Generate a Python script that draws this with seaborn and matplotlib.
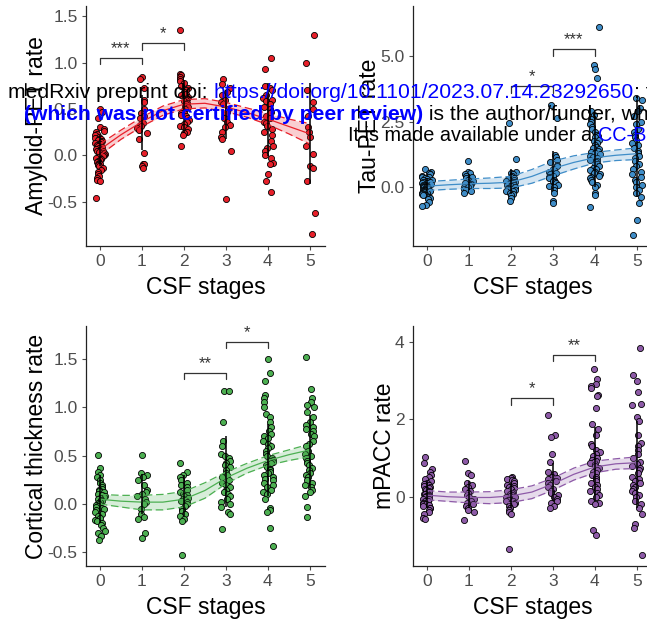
import numpy as np
import matplotlib
matplotlib.use("Agg")
import matplotlib.pyplot as plt
import seaborn as sns

# ---------------- data ----------------
STAGES = [0, 1, 2, 3, 4, 5]
STAGE_TICKS = ["0", "1", "2", "3", "4", "5"]
CURVE_X = [0, 0.5, 1, 1.5, 2, 2.5, 3, 3.5, 4, 4.5, 5]

# Amyloid-PET rate
A0 = [0.50, 0.47, 0.40, 0.30, 0.28, 0.26, 0.25, 0.23, 0.22, 0.20, 0.19, 0.18, 0.17, 0.16, 0.15, 0.14,
      0.13, 0.12, 0.11, 0.10, 0.10, 0.09, 0.08, 0.07, 0.06, 0.05, 0.05, 0.04, 0.03, 0.02, 0.01, 0.00,
      0.00, -0.01, -0.02, -0.03, -0.04, -0.05, -0.06, -0.07, -0.08, -0.09, -0.10, -0.11, -0.12, -0.14,
      -0.16, -0.18, -0.20, -0.22, -0.25, -0.27, -0.28, -0.46]
A1 = [0.84, 0.82, 0.73, 0.60, 0.57, 0.50, 0.45, 0.42, 0.40, 0.35, 0.33, 0.31, 0.29, 0.27, 0.24, 0.18,
      0.02, -0.09, -0.10, -0.12, -0.14]
A2 = [1.35, 0.88, 0.86, 0.84, 0.82, 0.80, 0.78, 0.75, 0.72, 0.70, 0.68, 0.66, 0.65, 0.63, 0.61, 0.60,
      0.58, 0.56, 0.55, 0.53, 0.52, 0.50, 0.48, 0.46, 0.45, 0.43, 0.42, 0.40, 0.38, 0.36, 0.34, 0.32,
      0.30, 0.28, 0.25, 0.24, 0.22, 0.10]
A3 = [0.82, 0.77, 0.73, 0.68, 0.65, 0.60, 0.57, 0.55, 0.50, 0.47, 0.45, 0.40, 0.36, 0.33, 0.30, 0.25,
      0.20, 0.17, 0.05, -0.47]
A4 = [1.05, 0.93, 0.75, 0.72, 0.70, 0.65, 0.62, 0.60, 0.58, 0.55, 0.52, 0.50, 0.47, 0.45, 0.42, 0.40,
      0.36, 0.35, 0.32, 0.28, 0.25, 0.22, 0.15, 0.10, 0.08, 0.05, 0.00, -0.03, -0.08, -0.10, -0.20,
      -0.28, -0.40]
A5 = [1.30, 1.00, 0.70, 0.57, 0.50, 0.42, 0.30, 0.25, 0.20, 0.10, 0.01, -0.12, -0.14, -0.28, -0.62, -0.85]
A_MID = [0.06, 0.22, 0.36, 0.48, 0.55, 0.56, 0.52, 0.46, 0.39, 0.31, 0.23]
A_LO = [0.00, 0.17, 0.31, 0.43, 0.50, 0.51, 0.47, 0.41, 0.33, 0.23, 0.12]
A_HI = [0.12, 0.27, 0.41, 0.53, 0.60, 0.61, 0.57, 0.51, 0.45, 0.39, 0.34]
A_ERR_LO = [-0.12, 0.06, 0.24, 0.17, -0.01, -0.31]
A_ERR_HI = [0.22, 0.65, 0.81, 0.70, 0.78, 0.78]

# Tau-PET rate
T0 = [0.70, 0.60, 0.55, 0.50, 0.45, 0.40, 0.38, 0.35, 0.32, 0.30, 0.28, 0.25, 0.22, 0.20, 0.18, 0.15,
      0.12, 0.10, 0.08, 0.06, 0.05, 0.03, 0.02, 0.00, 0.00, -0.02, -0.03, -0.05, -0.06, -0.08, -0.10,
      -0.12, -0.14, -0.15, -0.18, -0.20, -0.22, -0.25, -0.28, -0.30, -0.35, -0.40, -0.45, -0.55,
      -0.65, -0.70]
T1 = [0.99, 0.60, 0.55, 0.50, 0.45, 0.40, 0.35, 0.30, 0.25, 0.20, 0.15, 0.12, 0.10, 0.05, 0.02, 0.00,
      -0.05, -0.10, -0.15, -0.20]
T2 = [2.44, 1.08, 0.60, 0.55, 0.50, 0.45, 0.40, 0.35, 0.32, 0.30, 0.25, 0.22, 0.20, 0.18, 0.15, 0.12,
      0.10, 0.08, 0.05, 0.03, 0.00, -0.02, -0.05, -0.08, -0.10, -0.12, -0.15, -0.20, -0.25, -0.30,
      -0.40, -0.51]
T3 = [3.11, 2.62, 1.24, 1.15, 1.05, 0.95, 0.85, 0.80, 0.70, 0.65, 0.60, 0.55, 0.50, 0.45, 0.40, 0.35,
      0.30, 0.25, 0.20, 0.15, 0.10, 0.05, 0.00, -0.10, -0.20, -0.50, -0.60]
T4 = [6.07, 4.66, 4.50, 4.15, 2.90, 2.73, 2.60, 2.50, 2.40, 2.30, 2.20, 2.10, 2.00, 1.95, 1.90, 1.80,
      1.75, 1.70, 1.60, 1.55, 1.50, 1.45, 1.40, 1.35, 1.30, 1.25, 1.20, 1.15, 1.10, 1.05, 1.00, 0.95,
      0.90, 0.85, 0.80, 0.75, 0.70, 0.65, 0.60, 0.55, 0.50, 0.45, 0.40, 0.35, 0.30, 0.20, 0.10, 0.00,
      -0.20, -0.30, -0.76]
T5 = [3.39, 3.30, 3.00, 2.90, 2.70, 2.50, 2.40, 2.20, 2.10, 2.00, 1.90, 1.80, 1.70, 1.60, 1.50, 1.40,
      1.30, 1.20, 1.10, 1.00, 0.90, 0.80, 0.70, 0.60, 0.50, 0.40, 0.30, 0.20, 0.10, 0.00, -0.10, -0.20,
      -0.35, -0.60, -1.23, -1.81]
T_MID = [0.05, 0.10, 0.14, 0.16, 0.20, 0.42, 0.72, 0.95, 1.13, 1.22, 1.28]
T_LO = [-0.12, -0.07, -0.04, -0.04, -0.02, 0.16, 0.44, 0.70, 0.93, 1.02, 1.06]
T_HI = [0.22, 0.27, 0.32, 0.36, 0.42, 0.68, 1.00, 1.20, 1.33, 1.42, 1.50]
T_ERR_LO = [-0.30, -0.10, -0.25, -0.15, 0.00, -0.38]
T_ERR_HI = [0.35, 0.50, 0.70, 1.40, 2.70, 3.30]

# Cortical thickness rate
C0 = [0.51, 0.37, 0.33, 0.30, 0.28, 0.25, 0.22, 0.20, 0.18, 0.16, 0.15, 0.13, 0.12, 0.10, 0.09, 0.08,
      0.07, 0.06, 0.05, 0.04, 0.03, 0.02, 0.01, 0.00, -0.01, -0.02, -0.03, -0.04, -0.05, -0.06, -0.08,
      -0.10, -0.12, -0.14, -0.16, -0.18, -0.20, -0.22, -0.25, -0.28, -0.30, -0.33, -0.37]
C1 = [0.51, 0.32, 0.30, 0.28, 0.25, 0.20, 0.15, 0.12, 0.10, 0.08, 0.05, 0.02, 0.00, -0.05, -0.10,
      -0.13, -0.15, -0.30, -0.35]
C2 = [0.42, 0.33, 0.30, 0.28, 0.25, 0.22, 0.20, 0.18, 0.15, 0.12, 0.10, 0.09, 0.08, 0.06, 0.05, 0.04,
      0.03, 0.02, 0.00, -0.02, -0.05, -0.07, -0.10, -0.12, -0.15, -0.17, -0.53]
C3 = [1.17, 1.17, 0.85, 0.65, 0.60, 0.52, 0.50, 0.48, 0.45, 0.42, 0.40, 0.38, 0.35, 0.32, 0.30, 0.28,
      0.25, 0.22, 0.20, 0.18, 0.15, 0.12, 0.10, 0.08, 0.05, 0.02, 0.00, -0.03, -0.08, -0.10, -0.26]
C4 = [1.50, 1.35, 1.27, 1.13, 1.10, 1.05, 1.00, 0.93, 0.90, 0.85, 0.80, 0.75, 0.72, 0.70, 0.68, 0.65,
      0.62, 0.60, 0.58, 0.55, 0.52, 0.50, 0.48, 0.46, 0.45, 0.43, 0.42, 0.40, 0.38, 0.36, 0.35, 0.33,
      0.32, 0.30, 0.28, 0.26, 0.25, 0.22, 0.20, 0.18, 0.15, 0.12, 0.10, 0.05, -0.04, -0.06, -0.08,
      -0.25, -0.43]
C5 = [1.52, 1.19, 1.10, 1.05, 1.02, 1.00, 0.95, 0.90, 0.85, 0.82, 0.80, 0.78, 0.75, 0.72, 0.70, 0.65,
      0.62, 0.60, 0.55, 0.52, 0.50, 0.48, 0.45, 0.42, 0.40, 0.37, 0.35, 0.32, 0.30, 0.28, 0.25, 0.22,
      0.20, 0.18, 0.15, 0.12, 0.08, -0.03, -0.13]
C_MID = [0.05, 0.03, 0.02, 0.02, 0.05, 0.14, 0.27, 0.37, 0.45, 0.51, 0.56]
C_LO = [0.00, -0.03, -0.06, -0.06, -0.03, 0.06, 0.21, 0.32, 0.40, 0.45, 0.49]
C_HI = [0.10, 0.09, 0.09, 0.10, 0.13, 0.22, 0.33, 0.42, 0.50, 0.56, 0.62]
C_ERR_LO = [-0.20, -0.10, -0.12, -0.03, 0.08, 0.17]
C_ERR_HI = [0.30, 0.31, 0.30, 0.70, 0.83, 0.92]

# mPACC rate
M0 = [1.03, 0.88, 0.72, 0.65, 0.55, 0.50, 0.45, 0.40, 0.36, 0.33, 0.30, 0.28, 0.25, 0.22, 0.20, 0.18,
      0.15, 0.12, 0.10, 0.08, 0.06, 0.05, 0.03, 0.01, 0.00, -0.02, -0.05, -0.07, -0.10, -0.12, -0.15,
      -0.18, -0.20, -0.22, -0.25, -0.28, -0.30, -0.35, -0.40, -0.45, -0.55, -0.58]
M1 = [0.92, 0.60, 0.55, 0.35, 0.30, 0.25, 0.20, 0.15, 0.10, 0.05, 0.00, -0.05, -0.10, -0.15, -0.20,
      -0.25, -0.30, -0.35, -0.40, -0.60]
M2 = [0.50, 0.48, 0.45, 0.42, 0.40, 0.35, 0.30, 0.28, 0.25, 0.22, 0.20, 0.15, 0.12, 0.10, 0.08, 0.05,
      0.02, 0.00, -0.02, -0.05, -0.08, -0.10, -0.12, -0.15, -0.18, -0.20, -0.25, -0.30, -0.35, -0.40,
      -0.45, -1.35]
M3 = [2.12, 1.60, 1.55, 1.10, 0.90, 0.65, 0.58, 0.52, 0.48, 0.45, 0.40, 0.35, 0.30, 0.25, 0.20, 0.15,
      0.10, 0.05, 0.00, -0.05, -0.10, -0.15, -0.25, -0.30]
M4 = [3.30, 3.05, 2.90, 2.85, 2.80, 2.62, 2.60, 2.28, 1.88, 1.75, 1.60, 1.35, 1.30, 1.20, 1.15, 1.10,
      1.05, 1.00, 0.95, 0.92, 0.90, 0.88, 0.85, 0.80, 0.75, 0.70, 0.65, 0.60, 0.55, 0.50, 0.45, 0.40,
      0.35, 0.30, 0.25, 0.20, 0.15, 0.10, 0.05, 0.00, -0.10, -0.15, -0.20, -0.85, -1.00]
M5 = [3.85, 3.15, 3.00, 2.70, 2.40, 2.38, 2.05, 1.95, 1.60, 1.40, 1.30, 1.20, 1.10, 1.00, 0.90, 0.85,
      0.80, 0.75, 0.70, 0.60, 0.50, 0.45, 0.40, 0.35, 0.30, 0.25, 0.20, 0.15, 0.10, 0.05, 0.00, -0.10,
      -0.20, -0.30, -0.45, -0.70, -0.80, -1.50]
M_MID = [0.04, 0.00, -0.02, -0.02, 0.02, 0.12, 0.33, 0.58, 0.77, 0.85, 0.88]
M_LO = [-0.08, -0.12, -0.16, -0.18, -0.15, -0.05, 0.17, 0.43, 0.62, 0.71, 0.73]
M_HI = [0.16, 0.12, 0.12, 0.13, 0.18, 0.28, 0.48, 0.74, 0.92, 0.98, 1.03]
M_ERR_LO = [-0.30, -0.30, -0.30, -0.10, -0.10, -0.30]
M_ERR_HI = [0.40, 0.40, 0.35, 0.86, 1.81, 1.96]

Y_LABELS = ["Amyloid-PET rate", "Tau-PET rate", "Cortical thickness rate", "mPACC rate"]
COLORS = ["#E8202A", "#3F8DC8", "#4DB052", "#8E5BA8"]
SIG_LABELS = [["***", "*"], ["*", "***"], ["**", "*"], ["*", "**"]]

# ---------------- style ----------------
sns.set_theme(style="ticks")
plt.rcParams["font.family"] = ["Liberation Sans", "DejaVu Sans"]
plt.rcParams["axes.unicode_minus"] = False

W, H = 647, 627
fig = plt.figure(figsize=(W / 100, H / 100), dpi=100)

panels = [
    dict(groups=[A0, A1, A2, A3, A4, A5], mid=A_MID, lo=A_LO, hi=A_HI, elo=A_ERR_LO, ehi=A_ERR_HI,
         ylim=(-0.98, 1.61), yticks=[-0.5, 0.0, 0.5, 1.0, 1.5], fmt="{:.1f}",
         br=[(0, 1, 1.05, 0.07), (1, 2, 1.21, 0.08)], pos=(86, 6)),
    dict(groups=[T0, T1, T2, T3, T4, T5], mid=T_MID, lo=T_LO, hi=T_HI, elo=T_ERR_LO, ehi=T_ERR_HI,
         ylim=(-2.22, 6.88), yticks=[0.0, 2.5, 5.0], fmt="{:.1f}",
         br=[(2, 3, 3.83, 0.25), (3, 4, 5.25, 0.25)], pos=(413, 6)),
    dict(groups=[C0, C1, C2, C3, C4, C5], mid=C_MID, lo=C_LO, hi=C_HI, elo=C_ERR_LO, ehi=C_ERR_HI,
         ylim=(-0.64, 1.84), yticks=[-0.5, 0.0, 0.5, 1.0, 1.5], fmt="{:.1f}",
         br=[(2, 3, 1.35, 0.06), (3, 4, 1.67, 0.06)], pos=(86, 326)),
    dict(groups=[M0, M1, M2, M3, M4, M5], mid=M_MID, lo=M_LO, hi=M_HI, elo=M_ERR_LO, ehi=M_ERR_HI,
         ylim=(-1.79, 4.41), yticks=[0, 2, 4], fmt="{:.0f}",
         br=[(2, 3, 2.54, 0.16), (3, 4, 3.66, 0.16)], pos=(413, 326)),
]

AX_W, AX_H = 239, 240
np.random.seed(3)
for i, p in enumerate(panels):
    left, top = p["pos"]
    ax = fig.add_axes([left / W, 1 - (top + AX_H) / H, AX_W / W, AX_H / H])
    col = COLORS[i]
    xs, ys = [], []
    for s, g in zip(STAGES, p["groups"]):
        xs += [s] * len(g)
        ys += list(g)
    sns.stripplot(x=xs, y=ys, native_scale=True, jitter=0.12, color=col, size=4.4,
                  edgecolor="black", linewidth=0.6, ax=ax, zorder=2)
    ax.fill_between(CURVE_X, p["lo"], p["hi"], color=col, alpha=0.22, linewidth=0, zorder=3)
    sns.lineplot(x=CURVE_X, y=p["mid"], color=col, linewidth=0.9, ax=ax, zorder=4)
    sns.lineplot(x=CURVE_X, y=p["lo"], color=col, linewidth=0.9, linestyle=(0, (6, 3)), ax=ax, zorder=4)
    sns.lineplot(x=CURVE_X, y=p["hi"], color=col, linewidth=0.9, linestyle=(0, (6, 3)), ax=ax, zorder=4)
    ax.vlines(STAGES, p["elo"], p["ehi"], color="black", linewidth=1.1, zorder=5)
    for (x1, x2, y, h), lab in zip(p["br"], SIG_LABELS[i]):
        ax.plot([x1, x1, x2, x2], [y - h, y, y, y - h], color="#333333", linewidth=0.9, zorder=6)
        ax.annotate(lab, xy=((x1 + x2) / 2, y), xytext=(0, 1.5), textcoords="offset points",
                    ha="center", va="bottom", fontsize=12, color="#333333")
    ax.set_xlim(-0.33, 5.36)
    ax.set_ylim(*p["ylim"])
    ax.set_xticks(STAGES)
    ax.set_xticklabels(STAGE_TICKS)
    ax.set_yticks(p["yticks"])
    ax.set_yticklabels([p["fmt"].format(v) for v in p["yticks"]])
    ax.tick_params(axis="both", labelsize=12.5, colors="#4D4D4D", length=3, width=0.8, pad=3)
    ax.set_xlabel("CSF stages", fontsize=16.5, color="black", labelpad=5)
    ax.set_ylabel(Y_LABELS[i], fontsize=16.5, color="black", labelpad=-0.5)
    for sp in ["top", "right"]:
        ax.spines[sp].set_visible(False)
    for sp in ["left", "bottom"]:
        ax.spines[sp].set_color("#222222")
        ax.spines[sp].set_linewidth(0.9)
    ax.set_facecolor("white")

# ---------------- medRxiv overlay ----------------
renderer = fig.canvas.get_renderer()


def line(x0, y0, fs, pieces):
    x = x0
    for txt, color, weight in pieces:
        t = fig.text(x / W, 1 - y0 / H, txt, color=color, fontsize=fs, fontweight=weight,
                     ha="left", va="baseline", zorder=10)
        bb = t.get_window_extent(renderer)
        x += bb.width


line(8, 98, 15.2, [("medRxiv preprint doi: ", "black", "normal"),
                   ("https://doi.org/10.1101/2023.07.14.23292650", "#0000FF", "normal"),
                   ("; this version posted July 17, 2023.", "black", "normal")])
line(24, 119.5, 15.2, [("(which was not certified by peer review)", "#0000FF", "bold"),
                       (" is the author/funder, who has granted medRxiv a license to display the preprint in perpetuity.",
                        "black", "normal")])
line(348, 141, 14.3, [("It is made available under a ", "black", "normal"),
                      ("CC-BY 4.0 International license", "#0000FF", "normal")])

fig.savefig("out.png", dpi=100, facecolor="white")
